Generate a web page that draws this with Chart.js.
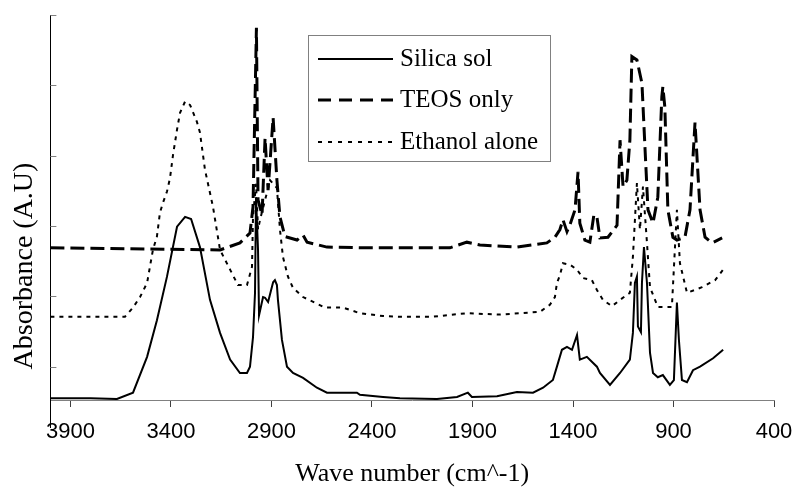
<!DOCTYPE html>
<html>
<head>
<meta charset="utf-8">
<script src="https://cdn.jsdelivr.net/npm/chart.js@4.4.1/dist/chart.umd.min.js"></script>
<style>
html, body { margin: 0; padding: 0; background: #fff; }
#wrap { width: 794px; height: 491px; }
</style>
</head>
<body>
<div id="wrap"><canvas id="irChart"></canvas></div>
<script>
// tick labels on the wave number axis
var xTickLabels = [3900, 3400, 2900, 2400, 1900, 1400, 900, 400];
var yTickValues = [0, 1, 2, 3, 4, 5];

// Silica sol
var silicaWave = [4000, 3800, 3669, 3589, 3519, 3470, 3420, 3370, 3330, 3300, 3256, 3206, 3156, 3106, 3057, 3022, 3007, 2992, 2982, 2977, 2967, 2962, 2942, 2932, 2917, 2892, 2883, 2873, 2868, 2848, 2823, 2793, 2743, 2674, 2624, 2475, 2460, 2345, 2261, 2077, 1977, 1923, 1903, 1778, 1679, 1599, 1549, 1500, 1480, 1455, 1430, 1405, 1380, 1366, 1331, 1281, 1266, 1216, 1166, 1117, 1102, 1092, 1082, 1077, 1062, 1057, 1047, 1032, 1017, 1002, 978, 953, 918, 898, 883, 873, 858, 833, 803, 768, 703, 653];
var silicaAbs = [-0.45, -0.45, -0.46, -0.37, 0.14, 0.66, 1.28, 1.99, 2.13, 2.10, 1.70, 0.95, 0.48, 0.10, -0.09, -0.09, 0.0, 0.42, 1.05, 2.41, 1.66, 0.73, 0.99, 0.98, 0.92, 1.20, 1.23, 1.16, 0.95, 0.38, 0.0, -0.09, -0.16, -0.30, -0.37, -0.37, -0.40, -0.43, -0.45, -0.46, -0.43, -0.37, -0.43, -0.42, -0.36, -0.37, -0.30, -0.19, 0.0, 0.24, 0.28, 0.24, 0.45, 0.10, 0.14, 0.0, -0.09, -0.26, -0.09, 0.10, 0.48, 1.19, 1.28, 0.57, 0.49, 1.19, 1.70, 1.19, 0.20, -0.09, -0.15, -0.12, -0.26, -0.19, 0.91, 0.38, -0.19, -0.22, -0.05, 0.0, 0.12, 0.24];

// TEOS only
var teosWave = [4000, 3156, 3057, 3007, 2992, 2975, 2967, 2947, 2932, 2917, 2892, 2873, 2858, 2833, 2773, 2743, 2723, 2624, 2425, 2012, 1928, 1863, 1679, 1530, 1490, 1465, 1450, 1430, 1415, 1390, 1375, 1366, 1341, 1316, 1296, 1281, 1266, 1226, 1181, 1166, 1151, 1132, 1117, 1107, 1082, 1057, 1042, 1027, 1002, 978, 958, 953, 943, 928, 903, 883, 843, 818, 793, 768, 743, 708, 658];
var teosAbs = [1.69, 1.66, 1.76, 1.90, 2.27, 4.82, 2.37, 2.16, 3.25, 2.51, 3.54, 2.65, 2.13, 1.85, 1.80, 1.87, 1.77, 1.70, 1.69, 1.69, 1.77, 1.73, 1.70, 1.76, 1.84, 1.95, 2.09, 1.92, 2.02, 2.23, 2.77, 2.04, 1.80, 1.77, 2.16, 2.13, 1.83, 1.84, 2.01, 3.22, 2.56, 2.65, 3.22, 4.41, 4.36, 4.03, 3.12, 2.23, 2.04, 2.41, 3.84, 3.98, 3.69, 2.23, 1.84, 1.80, 1.84, 2.23, 3.47, 2.23, 1.84, 1.76, 1.83];

// Ethanol alone
var ethanolWave = [4000, 3629, 3589, 3554, 3519, 3490, 3470, 3455, 3440, 3420, 3405, 3390, 3370, 3355, 3330, 3305, 3271, 3256, 3231, 3206, 3191, 3156, 3106, 3067, 3022, 2997, 2992, 2977, 2967, 2957, 2932, 2907, 2873, 2858, 2843, 2818, 2793, 2743, 2684, 2634, 2544, 2460, 2345, 2261, 2097, 1928, 1763, 1564, 1515, 1490, 1480, 1465, 1450, 1415, 1380, 1351, 1306, 1281, 1251, 1206, 1166, 1117, 1102, 1082, 1067, 1052, 1032, 1017, 978, 908, 883, 868, 833, 758, 693, 653];
var ethanolAbs = [0.71, 0.71, 0.84, 0.99, 1.19, 1.66, 1.85, 2.19, 2.33, 2.49, 2.68, 3.01, 3.37, 3.61, 3.77, 3.72, 3.48, 3.33, 2.80, 2.47, 2.27, 1.66, 1.38, 1.16, 1.16, 1.42, 2.13, 2.60, 1.95, 2.09, 2.37, 2.65, 2.54, 1.95, 1.56, 1.28, 1.12, 0.99, 0.91, 0.84, 0.84, 0.76, 0.72, 0.71, 0.71, 0.76, 0.74, 0.78, 0.88, 0.99, 1.19, 1.30, 1.47, 1.45, 1.38, 1.26, 1.23, 1.09, 0.95, 0.86, 0.95, 1.05, 1.56, 2.61, 1.95, 2.56, 1.76, 1.13, 0.85, 0.85, 2.23, 1.47, 1.05, 1.13, 1.23, 1.38];

function pairs(w, a) {
  return w.map(function (v, i) { return { x: v, y: a[i] }; });
}

var serif = '"Liberation Serif", "Times New Roman", serif';

// inner y ticks, y title and the boxed legend
var extras = {
  id: 'extras',
  afterDraw: function (chart) {
    var ctx = chart.ctx, area = chart.chartArea, ys = chart.scales.y;
    ctx.save();
    ctx.lineWidth = 1;
    ctx.strokeStyle = '#808080';
    yTickValues.forEach(function (v) {
      var py = Math.round(ys.getPixelForValue(v)) + 0.5;
      ctx.beginPath();
      ctx.moveTo(area.left, py);
      ctx.lineTo(area.left + 6, py);
      ctx.stroke();
    });
    ctx.strokeStyle = '#000';
    ctx.beginPath();
    ctx.moveTo(Math.round(area.left) + 0.5, area.bottom);
    ctx.lineTo(Math.round(area.left) + 0.5, area.bottom + 28);
    ctx.stroke();

    // y axis title
    ctx.save();
    ctx.translate(25, 266);
    ctx.rotate(-Math.PI / 2);
    ctx.font = '28px ' + serif;
    ctx.fillStyle = '#000';
    ctx.textAlign = 'center';
    ctx.textBaseline = 'middle';
    ctx.fillText('Absorbance (A.U)', 0, 0);
    ctx.restore();

    // legend
    ctx.fillStyle = '#fff';
    ctx.fillRect(308, 35, 242, 126);
    ctx.strokeStyle = '#808080';
    ctx.strokeRect(308.5, 35.5, 242, 126);
    var rows = [59, 100, 142];
    chart.data.datasets.forEach(function (ds, i) {
      var y = rows[i];
      ctx.strokeStyle = ds.borderColor;
      ctx.lineWidth = ds.borderWidth;
      ctx.setLineDash(ds.legendDash || []);
      ctx.beginPath();
      ctx.moveTo(318, y);
      ctx.lineTo(393, y);
      ctx.stroke();
      ctx.setLineDash([]);
      ctx.fillStyle = '#000';
      ctx.font = '25px ' + serif;
      ctx.textAlign = 'left';
      ctx.textBaseline = 'middle';
      ctx.fillText(ds.label, 400, y);
    });
    ctx.restore();
  }
};

new Chart(document.getElementById('irChart'), {
  type: 'line',
  data: {
    datasets: [{
      label: 'Silica sol',
      data: pairs(silicaWave, silicaAbs),
      borderColor: '#000',
      borderWidth: 2,
      pointRadius: 0,
      legendDash: []
    }, {
      label: 'TEOS only',
      data: pairs(teosWave, teosAbs),
      borderColor: '#000',
      borderWidth: 3,
      borderDash: [14, 6],
      pointRadius: 0,
      legendDash: [13, 8]
    }, {
      label: 'Ethanol alone',
      data: pairs(ethanolWave, ethanolAbs),
      borderColor: '#000',
      borderWidth: 2,
      borderDash: [4, 5],
      pointRadius: 0,
      legendDash: [4, 6]
    }]
  },
  options: {
    responsive: true,
    maintainAspectRatio: false,
    animation: false,
    devicePixelRatio: 1,
    layout: { padding: { top: 15, right: 20, left: 0, bottom: 0 } },
    plugins: {
      legend: { display: false },
      tooltip: { enabled: false }
    },
    scales: {
      x: {
        type: 'linear',
        min: 400,
        max: 4000,
        reverse: true,
        afterBuildTicks: function (s) {
          s.ticks = xTickLabels.map(function (v) { return { value: v }; });
        },
        afterFit: function (s) {
          s.height = 91;
          s.paddingLeft = 0;
          s.paddingRight = 0;
        },
        border: { color: '#808080', width: 1 },
        grid: { drawOnChartArea: false, drawTicks: true, tickLength: 7, color: '#404040' },
        ticks: {
          color: '#000',
          padding: 12,
          maxRotation: 0,
          autoSkip: false,
          font: { family: '"Liberation Sans", Arial, sans-serif', size: 22 },
          callback: function (v) { return String(v); }
        },
        title: {
          display: true,
          text: 'Wave number (cm^-1)',
          color: '#000',
          font: { family: serif, size: 26 },
          padding: { top: 0, bottom: 1 }
        }
      },
      y: {
        min: -0.474,
        max: 5,
        afterFit: function (s) { s.width = 50.4; },
        border: { color: '#000', width: 1 },
        grid: { display: false },
        ticks: { display: false }
      }
    }
  },
  plugins: [extras]
});
</script>
</body>
</html>
